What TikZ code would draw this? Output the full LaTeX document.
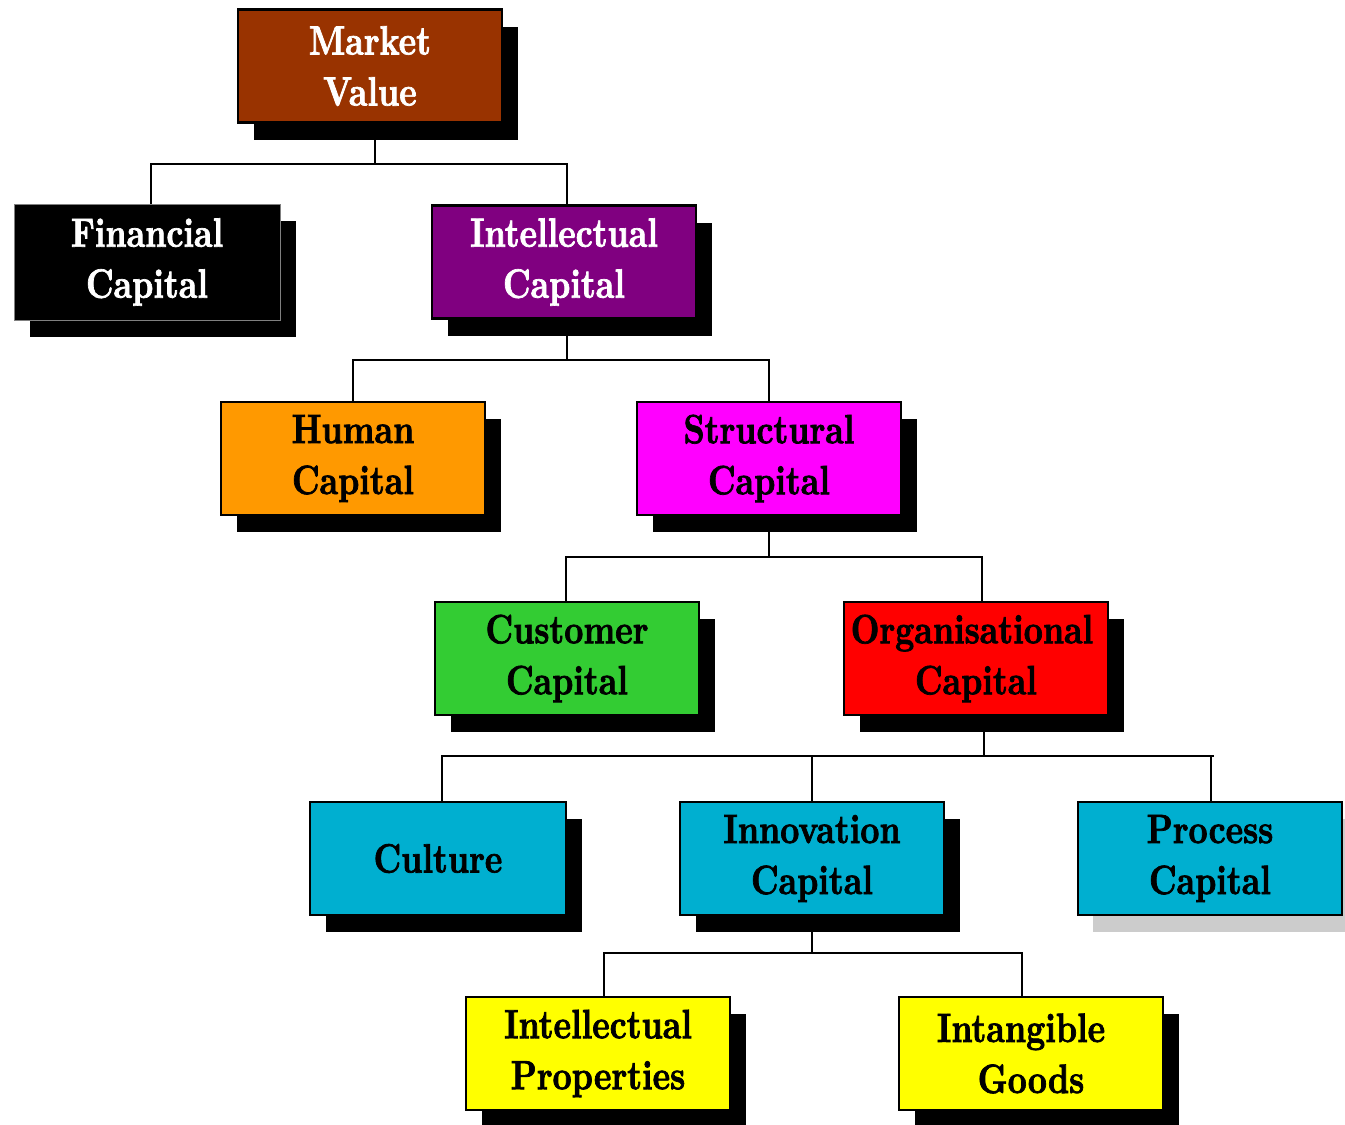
\documentclass[tikz,border=0pt]{standalone}
\usepackage{fontspec}
\usetikzlibrary{shadows,backgrounds}
% heavy, slightly condensed Didone face for the box labels
\newfontfamily\heavyfont{lmroman10-bold.otf}[FakeStretch=0.81, FakeBold=1.7]
\definecolor{mvbrown}{HTML}{993300}
\definecolor{icpurple}{HTML}{800080}
\definecolor{hcorange}{HTML}{FF9900}
\definecolor{scmagenta}{HTML}{FF00FF}
\definecolor{ccgreen}{HTML}{33CC33}
\definecolor{ocred}{HTML}{FF0000}
\definecolor{leafcyan}{RGB}{0,175,208}
\definecolor{leafyellow}{HTML}{FFFF00}
\definecolor{greyshade}{HTML}{CCCCCC}
\newcommand\boxfont{\heavyfont\fontsize{41}{51}\selectfont}
\tikzset{
  box/.style={draw=black, line width=2.5pt, minimum width=264pt, minimum height=113pt,
    inner sep=0pt, align=center, font=\boxfont, text=black},
  blackshade/.style={drop shadow={shadow xshift=16pt, shadow yshift=-17pt, fill=black, opacity=1}},
  greyshadow/.style={drop shadow={shadow xshift=15pt, shadow yshift=-17pt, fill=greyshade, opacity=1}},
  link/.style={draw=black, line width=2.2pt},
}
\begin{document}
\begin{tikzpicture}[x=1pt,y=-1pt]
\useasboundingbox (0,0) rectangle (1345,1125);

% level 0
\node[box, blackshade, fill=mvbrown, text=white] (mv) at (370,66) {Market\\Value};
% level 1
\node[box, blackshade, fill=black, draw=gray, line width=1pt, text=white, minimum width=266pt, minimum height=116pt] (fc) at (147,262) {Financial\\Capital};
\node[box, blackshade, fill=icpurple, text=white] (ic) at (564,262) {Intellectual\\Capital};
% level 2
\node[box, blackshade, fill=hcorange] (hc) at (353,458.5) {Human\\Capital};
\node[box, blackshade, fill=scmagenta] (sc) at (769,458.5) {Structural\\Capital};
% level 3
\node[box, blackshade, fill=ccgreen] (cc) at (567,658.5) {Customer\\Capital};
\node[box, blackshade, fill=ocred] (oc) at (976,658.5) {\hspace*{-8pt}Organisational\\Capital};
% level 4
\node[box, blackshade, fill=leafcyan, minimum width=256pt] (cu) at (438,858.5) {Culture};
\node[box, blackshade, fill=leafcyan] (inn) at (812,858.5) {Innovation\\Capital};
\node[box, greyshadow, fill=leafcyan] (pc) at (1210,858.5) {Process\\Capital};
% level 5
\node[box, blackshade, fill=leafyellow] (ip) at (598,1053.5) {Intellectual\\Properties};
\node[box, blackshade, fill=leafyellow] (ig) at (1031,1053.5) {\hspace*{-20pt}Intangible\\Goods};

% tree connectors
\begin{scope}[on background layer]
  \draw[link] ([xshift=5pt]mv.south) -- ++(0,40) coordinate (j0);
  \draw[link] ([xshift=4pt]fc.north) |- (j0) -| ([xshift=3pt]ic.north);

  \draw[link] ([xshift=3pt]ic.south) -- ++(0,40) coordinate (j1);
  \draw[link] (hc.north) |- (j1) -| (sc.north);

  \draw[link] (sc.south) -- ++(0,41) coordinate (j2);
  \draw[link] ([xshift=-1pt]cc.north) |- (j2) -| ([xshift=6pt]oc.north);

  \draw[link] ([xshift=8pt]oc.south) -- ++(0,40) coordinate (j3);
  \draw[link] ([xshift=4pt]cu.north) |- (j3);
  \draw[link] (j3) -- ++(230,0) coordinate (j3e);
  \draw[link] (inn.north) -- (inn.north |- j3);
  \draw[link] ([xshift=1pt]pc.north) -- ([xshift=1pt]pc.north |- j3);

  \draw[link] (inn.south) -- ++(0,37) coordinate (j4);
  \draw[link] ([xshift=6pt]ip.north) |- (j4) -| ([xshift=-9pt]ig.north);
\end{scope}
\end{tikzpicture}
\end{document}
